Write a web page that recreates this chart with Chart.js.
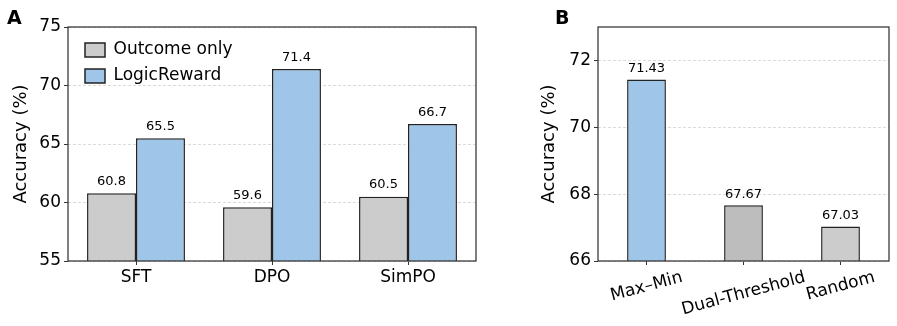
<!DOCTYPE html>
<html><head><meta charset="utf-8">
<script src="https://cdn.jsdelivr.net/npm/chart.js@4.4.1/dist/chart.umd.min.js"></script>
<style>
html,body{margin:0;padding:0;background:#fff;}
body{width:897px;height:326px;position:relative;overflow:hidden;font-family:"DejaVu Sans";}
#ca{position:absolute;left:0;top:0;}
#cb{position:absolute;left:480px;top:0;}
.lt{position:absolute;font:bold 19px "DejaVu Sans";color:#000;line-height:normal;}
</style></head><body>
<canvas id="ca" width="480" height="326"></canvas>
<canvas id="cb" width="417" height="326"></canvas>
<div class="lt" style="left:7px;top:6px">A</div>
<div class="lt" style="left:555px;top:6px">B</div>
<script>
// ---- data ----
const methodsA = ['SFT', 'DPO', 'SimPO'];
const seriesNamesA = ['Outcome only', 'LogicReward'];
const outcomeOnly = [60.8, 59.6, 60.5];
const logicReward = [65.5, 71.4, 66.7];
const yRangeA = [55, 75];
const yStepA = 5;

const strategiesB = ['Max\u2013Min', 'Dual-Threshold', 'Random'];
const accuracyB = [71.43, 67.67, 67.03];
const yRangeB = [66, 73];
const yStepB = 2;

// ---- styles ----
const FONT = '"DejaVu Sans"';
Chart.defaults.font.family = FONT;
Chart.defaults.color = '#000';
const BLUE = '#9fc5e8', GRAY = '#cccccc', DGRAY = '#bdbdbd', EDGE = '#333333', BAR_EDGE = '#222222';

const valueLabels = {
  id: 'valueLabels',
  afterDatasetsDraw(chart, args, opts) {
    const ctx = chart.ctx;
    ctx.save();
    ctx.font = '13px ' + FONT;
    ctx.fillStyle = '#000';
    ctx.textAlign = 'center';
    ctx.textBaseline = 'alphabetic';
    chart.data.datasets.forEach((ds, di) => {
      chart.getDatasetMeta(di).data.forEach((bar, i) => {
        ctx.fillText(ds.data[i].toFixed(opts.decimals), bar.x, bar.y - opts.gap);
      });
    });
    ctx.restore();
  }
};
const frame = {
  id: 'frame',
  afterDraw(chart) {
    const {left, top, right, bottom} = chart.chartArea;
    const ctx = chart.ctx;
    ctx.save();
    ctx.strokeStyle = EDGE;
    ctx.lineWidth = 1.25;
    ctx.strokeRect(left, top, right - left, bottom - top);
    ctx.restore();
  }
};
const legendPlace = {
  id: 'legendPlace',
  afterLayout(chart) {
    const lg = chart.legend;
    if (!lg) return;
    const ca = chart.chartArea;
    lg.left = ca.left + 8;
    lg.top = ca.top + 5.5;
    lg.right = lg.left + lg.width;
    lg.bottom = ca.bottom;
  }
};
const rotLabels = {
  id: 'rotLabels',
  afterDraw(chart) {
    const sx = chart.scales.x;
    const ctx = chart.ctx;
    ctx.save();
    ctx.font = '17px ' + FONT;
    ctx.fillStyle = '#000';
    const ang = 15 * Math.PI / 180;
    const top = sx.top + 9;
    chart.data.labels.forEach((lab, i) => {
      const w = ctx.measureText(lab).width;
      const h = 15;
      const bh = w * Math.sin(ang) + h * Math.cos(ang);
      const x = sx.getPixelForValue(i);
      const y = top + bh / 2;
      ctx.save();
      ctx.translate(x, y);
      ctx.rotate(-ang);
      ctx.textAlign = 'center';
      ctx.textBaseline = 'middle';
      ctx.fillText(lab, 0, 0);
      ctx.restore();
    });
    ctx.restore();
  }
};

function yScale(range, step, width) {
  return {
    min: range[0], max: range[1],
    afterFit(s) { s.width = width; },
    ticks: {stepSize: step, font: {size: 17}, color: '#000', padding: 3, includeBounds: false},
    grid: {color: '#d0d0d0', lineWidth: 0.8, tickColor: EDGE, tickLength: 4, tickWidth: 1},
    border: {display: false, dash: [3, 2]},
    title: {display: true, text: 'Accuracy (%)', font: {size: 18}, color: '#000', padding: {top: 11, bottom: 0}}
  };
}

// ---- Panel A ----
new Chart(document.getElementById('ca'), {
  type: 'bar',
  data: {
    labels: methodsA,
    datasets: [
      {label: seriesNamesA[0], data: outcomeOnly, backgroundColor: GRAY, borderColor: BAR_EDGE, borderWidth: 1.5},
      {label: seriesNamesA[1], data: logicReward, backgroundColor: BLUE, borderColor: BAR_EDGE, borderWidth: 1.5}
    ]
  },
  options: {
    responsive: false, animation: false, devicePixelRatio: 1,
    layout: {padding: {left: 0, right: 4, top: 27, bottom: 0}},
    datasets: {bar: {categoryPercentage: 0.72, barPercentage: 1.0}},
    scales: {
      x: {
        afterFit(s) { s.height = 65; },
        ticks: {font: {size: 17}, color: '#000', padding: 2},
        grid: {offset: false, drawOnChartArea: false, drawTicks: true, tickLength: 4, tickColor: EDGE, tickWidth: 1},
        border: {display: false}
      },
      y: yScale(yRangeA, yStepA, 68)
    },
    plugins: {
      legend: {
        position: 'chartArea', align: 'start',
        labels: {font: {size: 17}, color: '#000', boxWidth: 20, boxHeight: 14, padding: 9}
      },
      tooltip: {enabled: false},
      valueLabels: {decimals: 1, gap: 8.5}
    }
  },
  plugins: [valueLabels, frame, legendPlace]
});

// ---- Panel B ----
new Chart(document.getElementById('cb'), {
  type: 'bar',
  data: {
    labels: strategiesB,
    datasets: [
      {label: 'Accuracy', data: accuracyB, backgroundColor: [BLUE, DGRAY, GRAY], borderColor: BAR_EDGE, borderWidth: 1.5}
    ]
  },
  options: {
    responsive: false, animation: false, devicePixelRatio: 1,
    layout: {padding: {left: 48, right: 8, top: 27, bottom: 0}},
    datasets: {bar: {categoryPercentage: 1.0, barPercentage: 0.4}},
    scales: {
      x: {
        afterFit(s) { s.height = 65; },
        ticks: {display: false},
        grid: {offset: false, drawOnChartArea: false, drawTicks: true, tickLength: 4, tickColor: EDGE, tickWidth: 1},
        border: {display: false}
      },
      y: yScale(yRangeB, yStepB, 70)
    },
    plugins: {
      legend: {display: false},
      tooltip: {enabled: false},
      valueLabels: {decimals: 2, gap: 7.3}
    }
  },
  plugins: [valueLabels, frame, rotLabels]
});
</script>
</body></html>
